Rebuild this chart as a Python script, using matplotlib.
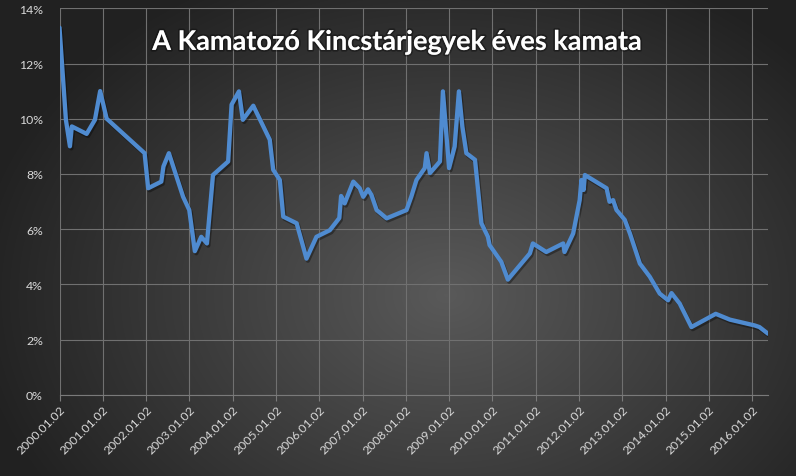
import numpy as np
import pandas as pd
import matplotlib
matplotlib.use("Agg")
import matplotlib.pyplot as plt
import matplotlib.dates as mdates
import matplotlib.patheffects as pe
from matplotlib.ticker import FuncFormatter

# data
dates = ["2000-01-02", "2000-02-25", "2000-03-30", "2000-04-15", "2000-08-18",
         "2000-10-27", "2000-12-10", "2001-02-03", "2001-12-20", "2002-01-19",
         "2002-05-10", "2002-05-28", "2002-07-13", "2002-11-10", "2003-01-01",
         "2003-02-17", "2003-04-12", "2003-05-30", "2003-07-20", "2003-11-25",
         "2003-12-24", "2004-02-24", "2004-03-28", "2004-06-24", "2004-11-10",
         "2004-12-09", "2005-02-03", "2005-03-04", "2005-06-25", "2005-09-16",
         "2005-12-09", "2006-04-01", "2006-06-20", "2006-07-05", "2006-08-04",
         "2006-10-16", "2006-12-09", "2007-01-08", "2007-02-17", "2007-03-18",
         "2007-05-01", "2007-07-24", "2008-01-08", "2008-02-17", "2008-04-01",
         "2008-06-10", "2008-06-25", "2008-07-24", "2008-10-16", "2008-11-10",
         "2009-01-01", "2009-02-17", "2009-03-25", "2009-04-23", "2009-05-27",
         "2009-08-08", "2009-10-01", "2009-11-25", "2009-12-09", "2010-03-18",
         "2010-05-12", "2010-11-14", "2010-12-09", "2011-04-01", "2011-08-22",
         "2011-09-02", "2011-11-14", "2012-01-08", "2012-01-23", "2012-02-10",
         "2012-02-21", "2012-08-22", "2012-09-16", "2012-10-16", "2012-11-14",
         "2013-01-23", "2013-03-07", "2013-05-30", "2013-08-22", "2013-11-14",
         "2014-01-23", "2014-02-21", "2014-05-01", "2014-08-08", "2015-03-01",
         "2015-06-28", "2016-01-23", "2016-03-04", "2016-05-15"]
rates = [13.3, 9.96, 9.0, 9.72, 9.45,
         9.96, 11.0, 10.0, 8.75, 7.48,
         7.72, 8.27, 8.75, 7.17, 6.69,
         5.2, 5.72, 5.48, 7.96, 8.45,
         10.51, 10.99, 9.96, 10.47, 9.24,
         8.15, 7.78, 6.45, 6.21, 4.93,
         5.72, 5.96, 6.4, 7.2, 6.93,
         7.72, 7.48, 7.17, 7.44, 7.24,
         6.69, 6.39, 6.69, 7.17, 7.78,
         8.21, 8.75, 8.03, 8.45, 10.99,
         8.21, 8.99, 10.99, 9.72, 8.75,
         8.51, 6.21, 5.72, 5.42, 4.81,
         4.17, 5.12, 5.48, 5.17, 5.48,
         5.17, 5.84, 7.05, 7.78, 7.42,
         7.96, 7.48, 6.99, 7.05, 6.69,
         6.33, 5.84, 4.75, 4.27, 3.66,
         3.42, 3.68, 3.30, 2.45, 2.93,
         2.72, 2.51, 2.45, 2.21]
tick_dates = ["%d-01-02" % y for y in range(2000, 2017)]
y_ticks = [0, 2, 4, 6, 8, 10, 12, 14]
title = "A Kamatozó Kincstárjegyek éves kamata"

x = pd.to_datetime(dates)
y = np.array(rates)

fig = plt.figure(figsize=(7.96, 4.77), dpi=100)

# radial gradient background
bg = fig.add_axes([0, 0, 1, 1], zorder=-10)
h, w = 477, 796
yy, xx = np.mgrid[0:h, 0:w]
cx, cy = 0.56 * w, 0.62 * h
r = np.sqrt(((xx - cx) / (0.6 * w)) ** 2 + ((yy - cy) / (0.75 * h)) ** 2)
r = np.clip(r, 0, 1)
c_in, c_out = 0.35, 0.13
img = c_in * (1 - r) + c_out * r
bg.imshow(np.dstack([img, img, img]), aspect="auto", extent=[0, 1, 0, 1])
bg.axis("off")

ax = fig.add_axes([59.5 / 796, 1 - 395.7 / 477, (768 - 59.5) / 796, (395.7 - 9.3) / 477])
ax.set_facecolor("none")

ax.plot(x, y / 100, color="#4f8bd0", lw=3.1, solid_joinstyle="round",
        solid_capstyle="round", zorder=3,
        path_effects=[pe.SimpleLineShadow(offset=(1, -1.5), shadow_color="black", alpha=0.35),
                      pe.Normal()])

ax.set_xlim(x[0], x[-1])
ax.set_ylim(0, 0.14)
ax.set_yticks([v / 100 for v in y_ticks])
ax.yaxis.set_major_formatter(FuncFormatter(lambda v, p: "%d%%" % round(v * 100)))
ax.set_xticks(pd.to_datetime(tick_dates))
ax.xaxis.set_major_formatter(mdates.DateFormatter("%Y.%m.%d"))

ax.grid(True, color="#707070", lw=0.8)
ax.set_axisbelow(True)
for s in ["top", "right", "left"]:
    ax.spines[s].set_visible(False)
ax.spines["bottom"].set_color("#7a7a7a")
ax.spines["bottom"].set_linewidth(0.8)

ax.tick_params(axis="y", length=0, pad=12, labelsize=8.8, labelcolor="#d9d9d9")
ax.tick_params(axis="x", length=4, width=0.8, color="#7a7a7a", pad=2,
               labelsize=8.8, labelcolor="#d9d9d9")
for lab in ax.get_xticklabels():
    lab.set_rotation(45)
    lab.set_ha("right")
    lab.set_rotation_mode("anchor")
for lab in ax.get_xticklabels() + ax.get_yticklabels():
    lab.set_family(["Lato", "DejaVu Sans"])

fig.text(0.499, 0.91, title, ha="center", va="center", color="white",
         fontsize=19.5, fontweight="bold", family=["Lato", "DejaVu Sans"],
         path_effects=[pe.Stroke(linewidth=2.5, foreground="#00000055"), pe.Normal()])

fig.savefig("out.png", dpi=100)
